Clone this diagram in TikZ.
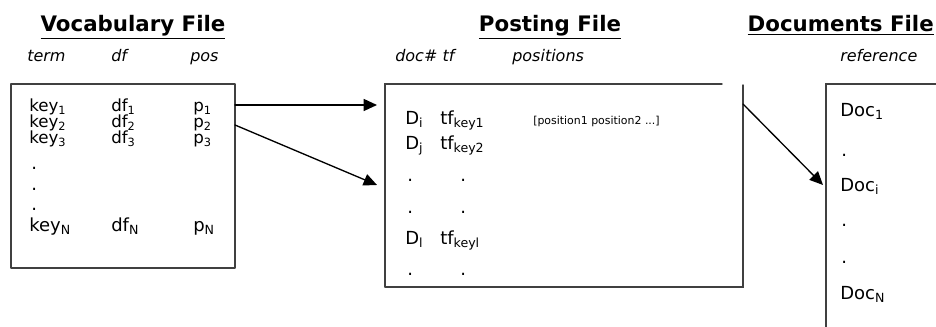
\documentclass[tikz,border=0pt]{standalone}
\usepackage{fontspec}
\setmainfont{DejaVu Sans}
\usepackage{tkz-euclide}
\usetikzlibrary{arrows.meta}

\newcommand{\idx}[1]{\raisebox{-0.3ex}{\fontsize{8.5}{9}\selectfont#1}}

\begin{document}
\begin{tikzpicture}[x=0.75pt,y=-0.75pt,
  heading/.style={font=\bfseries\fontsize{16}{18}\selectfont,anchor=base,inner sep=0pt},
  colhead/.style={font=\itshape\fontsize{12}{14}\selectfont,anchor=base west,inner sep=0pt},
  entry/.style={font=\fontsize{13.5}{15}\selectfont,anchor=base west,inner sep=0pt},
  tight/.style={font=\fontsize{12.5}{13}\selectfont,anchor=base west,inner sep=0pt},
  small/.style={font=\fontsize{8.2}{9}\selectfont,anchor=base west,inner sep=0pt},
  boxline/.style={draw=black!75,line width=1pt},
  link/.style={draw=black,line width=1pt,-{Triangle[length=10pt,width=9pt]}}]
\useasboundingbox (0,0) rectangle (936,327);

% vocabulary box
\tkzDefPoint(11,84){vA}
\tkzDefPoint(235,84){vB}
\tkzDefPoint(235,268){vC}
\tkzDefPoint(11,268){vD}
\tkzDrawPolygon[boxline](vA,vB,vC,vD)

% posting box (top edge stops short)
\tkzDefPoint(385,84){pA}
\tkzDefPoint(722,84){pB}
\tkzDefPoint(743,85){pC}
\tkzDefPoint(743,287){pD}
\tkzDefPoint(385,287){pE}
\tkzDrawPolySeg[boxline](pE,pA,pB)
\tkzDrawPolySeg[boxline](pC,pD,pE)

% documents box, runs off the page
\tkzDefPoint(826,330){dA}
\tkzDefPoint(826,84){dB}
\tkzDefPoint(940,84){dC}
\tkzDrawPolySeg[boxline](dA,dB,dC)

% arrows
\tkzDefPoint(235,105){vOne}
\tkzDefPoint(377,105){pIn}
\tkzDefPoint(235,125){vTwo}
\tkzDefPoint(377,185){pMid}
\tkzDefPoint(743,104){pOut}
\tkzDefPoint(823,185){dIn}
\tkzDrawSegment[link](vOne,pIn)
\tkzDrawSegment[link](vTwo,pMid)
\tkzDrawSegment[link](pOut,dIn)

% headings
\node[heading] (vocabT) at (133,32) {\underline{Vocabulary File}};
\node[heading] (postT) at (550,32) {\underline{Posting File}};
\node[heading,anchor=base east] (docT) at (934,32) {\underline{Documents File}};

\node[colhead] (vTerm) at (27,62) {term};
\node[colhead] (vDf) at (111,62) {df};
\node[colhead] (vPos) at (190,62) {pos};
\node[colhead] (pDoc) at (395,62) {doc\# tf};
\node[colhead] (pPos) at (512,62) {positions};
\node[colhead] (dRef) at (840,62) {reference};

% vocabulary entries
\node[tight] (key1) at (29,112) {key\idx{1}};
\node[tight] (df1) at (111,112) {df\idx{1}};
\node[tight] (p1) at (193,112) {p\idx{1}};
\node[tight] (key2) at (29,128) {key\idx{2}};
\node[tight] (df2) at (111,128) {df\idx{2}};
\node[tight] (p2) at (193,128) {p\idx{2}};
\node[tight] (key3) at (29,144) {key\idx{3}};
\node[tight] (df3) at (111,144) {df\idx{3}};
\node[tight] (p3) at (193,144) {p\idx{3}};
\node[entry] (vDotA) at (31,170) {.};
\node[entry] (vDotB) at (31,191) {.};
\node[entry] (vDotC) at (31,211) {.};
\node[entry] (keyN) at (29,232) {key\textsubscript{N}};
\node[entry] (dfN) at (111,232) {df\textsubscript{N}};
\node[entry] (pN) at (193,232) {p\textsubscript{N}};

% posting entries
\node[entry] (Di) at (405,125) {D\textsubscript{i}};
\node[entry] (tfOne) at (440,125) {tf\textsubscript{key1}};
\node[small] (posList) at (533,125) {[position1 position2 ...]};
\node[entry] (Dj) at (405,150) {D\textsubscript{j}};
\node[entry] (tfTwo) at (440,150) {tf\textsubscript{key2}};
\node[entry] (pDotA) at (407,182) {.};
\node[entry] (pDotB) at (460,182) {.};
\node[entry] (pDotC) at (407,214) {.};
\node[entry] (pDotD) at (460,214) {.};
\node[entry] (Dl) at (405,245) {D\textsubscript{l}};
\node[entry] (tfL) at (440,245) {tf\textsubscript{keyl}};
\node[entry] (pDotE) at (407,276) {.};
\node[entry] (pDotF) at (460,276) {.};

% documents entries
\node[entry] (docOne) at (840,117) {Doc\textsubscript{1}};
\node[entry] (dDotA) at (841,157) {.};
\node[entry] (docI) at (840,192) {Doc\textsubscript{i}};
\node[entry] (dDotB) at (841,227) {.};
\node[entry] (dDotC) at (841,264) {.};
\node[entry] (docN) at (840,300) {Doc\textsubscript{N}};

\end{tikzpicture}
\end{document}
